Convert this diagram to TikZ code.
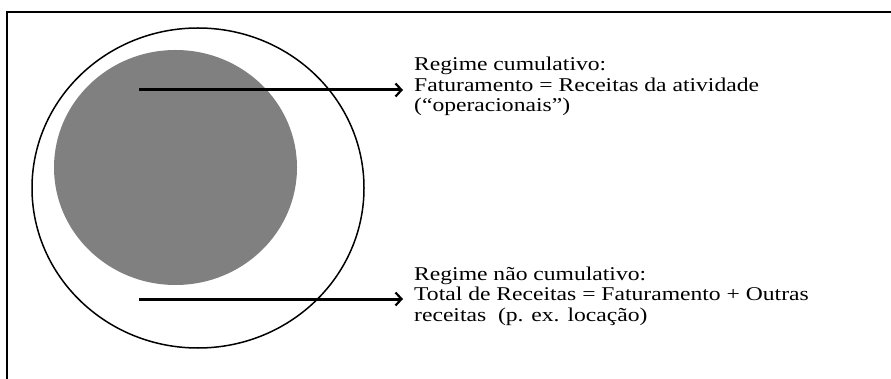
\documentclass[tikz,border=0pt]{standalone}
\usepackage{fontspec}
\setmainfont{Liberation Serif}[FakeStretch=1.21]
\usepackage{tikz}
\usetikzlibrary{arrows.meta}

\tikzset{
	regtext/.style={black, anchor=north west, inner sep=0pt, align=left, font=\fontsize{19.5}{20.5}\selectfont},
	regarrow/.style={draw=black, line width=3pt, -{Straight Barb[length=6pt,width=13pt,line width=2.2pt]}, shorten >=11pt}
}

\begin{document}
\begin{tikzpicture}[x=1pt, y=-1pt]
	\useasboundingbox (0,0) rectangle (891,379);
	% frame
	\draw[draw=black, line width=2pt, solid] (7,385) -- (7,12) -- (895,12);
	% outer and inner regions
	\draw[draw=black, line width=1.5pt, solid] (198,188) ellipse (166 and 160);
	\fill[fill=gray] (175.5,167.5) ellipse (121.5 and 117.5);
	% arrow starts
	\coordinate (startA) at (139,90);
	\coordinate (startB) at (139,299);
	% texts
	\node[regtext] (regA) at (414,57) {Regime cumulativo:\\Faturamento = Receitas da atividade\\(``operacionais'')};
	\node[regtext] (regB) at (414,266.5) {Regime não cumulativo:\\Total de Receitas = Faturamento + Outras\\receitas~ (p. ex. locação)};
	% arrows
	\draw[regarrow] (startA) -- (startA -| regA.west);
	\draw[regarrow] (startB) -- (startB -| regB.west);
\end{tikzpicture}
\end{document}
